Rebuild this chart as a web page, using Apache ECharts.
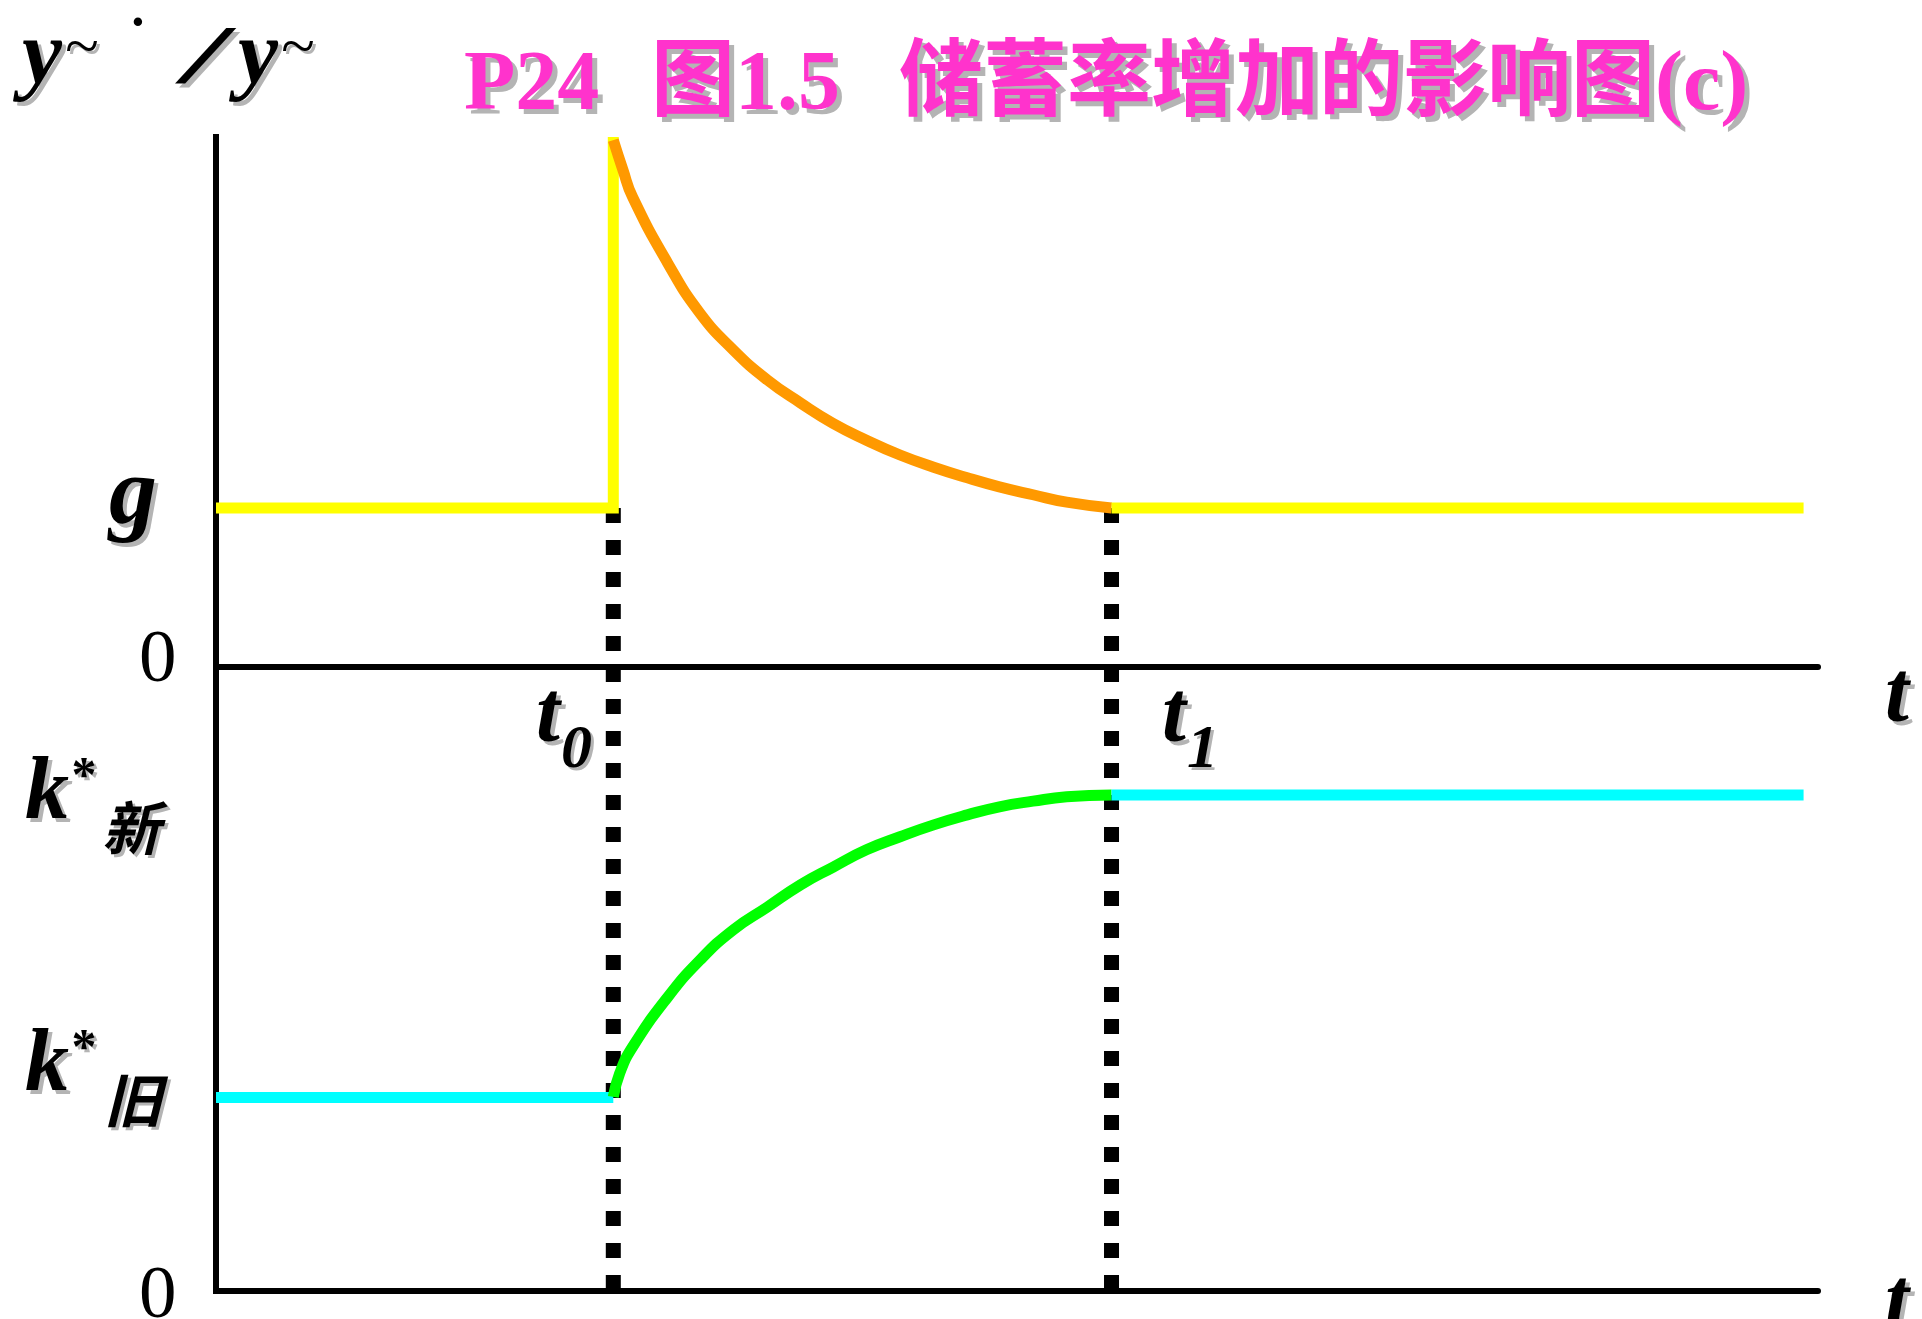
<!DOCTYPE html>
<html>
<head>
<meta charset="utf-8">
<script src="https://cdn.jsdelivr.net/npm/echarts@6/dist/echarts.min.js"></script>
<style>
html,body{margin:0;padding:0;background:#fff}
#main{width:1922px;height:1319px}
</style>
</head>
<body>
<div id="main"></div>
<script>
// time axis (0..100), t0 = saving rate rises, t1 = new steady state
const t0 = 24.8, t1 = 55.9, tEnd = 99.1;
// upper panel: growth rate of y~
const gRate = 0.3, peakRate = 1.0;
const orangeT = [24.8, 25.4, 26.0, 28.2, 30.2, 32.3, 34.4, 36.5, 38.5, 40.6, 42.7, 44.8, 46.9, 48.9, 51.0, 53.1, 55.9];
const orangeY = [0.994, 0.938, 0.887, 0.762, 0.668, 0.598, 0.542, 0.498, 0.460, 0.428, 0.400, 0.377, 0.357, 0.340, 0.325, 0.311, 0.300];
// lower panel: k
const kOld = 0.31, kNew = 0.795;
const greenT = [24.8, 25.2, 26.0, 28.2, 30.2, 32.3, 34.4, 36.5, 38.5, 40.6, 42.7, 44.8, 46.9, 48.9, 51.0, 53.1, 55.9];
const greenK = [0.311, 0.349, 0.391, 0.471, 0.530, 0.579, 0.615, 0.651, 0.679, 0.707, 0.728, 0.747, 0.763, 0.776, 0.785, 0.792, 0.795];

const SERIF = '"Liberation Serif", "Noto Sans CJK SC"';
const CJK = '"Noto Sans CJK SC"';
const GREY = '#b4b4b4';

let texts = [];
// baseline -> middle for the serif font
function addText(x, baseline, text, font, size, fill, shadow, extra){
    let y = baseline - 0.3375 * size;
    let f = font.replace('#', size + 'px');
    if ( shadow ){
        texts.push(Object.assign({ type:'text', x:x + shadow, y:y + shadow, z:10,
            style:{ text:text, font:f, fill:GREY, textVerticalAlign:'middle' } }, extra || {}));
    }
    texts.push(Object.assign({ type:'text', x:x, y:y, z:11,
        style:{ text:text, font:f, fill:fill, textVerticalAlign:'middle' } }, extra || {}));
}
function addCenter(cx, cy, text, font, fill, shadow){
    if ( shadow ){
        texts.push({ type:'text', x:cx + shadow, y:cy + shadow, z:10,
            style:{ text:text, font:font, fill:GREY, textAlign:'center', textVerticalAlign:'middle' } });
    }
    texts.push({ type:'text', x:cx, y:cy, z:11,
        style:{ text:text, font:font, fill:fill, textAlign:'center', textVerticalAlign:'middle' } });
}

// title
const PINK = '#ff33cc';
addText(464, 116, 'P24', 'bold # ' + SERIF, 84, PINK, 5);
addText(651, 116, '图1.5', 'bold # ' + SERIF, 84, PINK, 5);
addText(899, 116, '储蓄率增加的影响图(c)', 'bold # ' + SERIF, 84, PINK, 5);

// y~ . / y~
addText(22, 90, 'y', 'italic bold # ' + SERIF, 90, '#000', 4);
addCenter(82, 50, '~', '62px ' + SERIF, '#000', 3);
addCenter(138, 26, '·', 'bold 52px ' + SERIF, '#000', 0);
addText(184, 88, '/', 'italic bold # ' + SERIF, 82, '#000', 4, { scaleX:1.8, originX:0 });
addText(238, 90, 'y', 'italic bold # ' + SERIF, 90, '#000', 4);
addCenter(298, 50, '~', '62px ' + SERIF, '#000', 3);

// left labels
addText(109, 531, 'g', 'italic bold # ' + SERIF, 96, '#000', 4);
addText(139, 687, '0', '# ' + SERIF, 75, '#000', 0);
addText(139, 1323, '0', '# ' + SERIF, 75, '#000', 0);
addText(25, 825, 'k', 'italic bold # ' + SERIF, 88, '#000', 4);
addCenter(84, 778, '*', 'bold 50px ' + SERIF, '#000', 3);
addCenter(131, 828, '新', 'italic bold 58px ' + CJK, '#000', 3);
addText(25, 1097, 'k', 'italic bold # ' + SERIF, 88, '#000', 4);
addCenter(84, 1050, '*', 'bold 50px ' + SERIF, '#000', 3);
addCenter(133, 1100, '旧', 'italic bold 58px ' + CJK, '#000', 3);

// time labels
addText(536, 748, 't', 'italic bold # ' + SERIF, 86, '#000', 4);
addText(561, 772, '0', 'italic bold # ' + SERIF, 62, '#000', 3);
addText(1162, 748, 't', 'italic bold # ' + SERIF, 86, '#000', 4);
addText(1187, 772, '1', 'italic bold # ' + SERIF, 62, '#000', 3);
addText(1885, 728, 't', 'italic bold # ' + SERIF, 86, '#000', 4);
addText(1885, 1335, 't', 'italic bold # ' + SERIF, 86, '#000', 4);

function axisPair(grid){
    return {
        x:{ gridIndex:grid, type:'value', min:0, max:100,
            axisLine:{ show:true, onZero:false, lineStyle:{ color:'#000', width:6 } },
            axisTick:{ show:false }, axisLabel:{ show:false }, splitLine:{ show:false } },
        y:{ gridIndex:grid, type:'value', min:0, max:1,
            axisLine:{ show:true, lineStyle:{ color:'#000', width:6, cap:'square' } },
            axisTick:{ show:false }, axisLabel:{ show:false }, splitLine:{ show:false } }
    };
}
let a0 = axisPair(0), a1 = axisPair(1);

function line(grid, data, color, width, extra){
    return Object.assign({
        type:'line', xAxisIndex:grid, yAxisIndex:grid, data:data,
        symbol:'none', clip:false, silent:true, z:3,
        lineStyle:{ color:color, width:width, join:'miter' }
    }, extra || {});
}
function dashed(grid, from, to, x){
    return line(grid, [[x, from], [x, to]], '#000', 15, {
        z:1, lineStyle:{ color:'#000', width:15, type:[15, 17], cap:'butt' }
    });
}
const curve = { smooth:0.5 };

let option = {
    animation:false,
    backgroundColor:'#fff',
    grid:[
        { left:216, right:104, top:137, height:530 },
        { left:216, right:104, top:667, height:624 }
    ],
    xAxis:[a0.x, a1.x],
    yAxis:[a0.y, a1.y],
    graphic:{ elements:texts },
    series:[
        dashed(0, gRate, 0, t0),
        dashed(0, gRate, 0, t1),
        dashed(1, 1, 0, t0),
        dashed(1, 1, 0, t1),
        line(0, [[0, gRate], [t0, gRate], [t0, peakRate]], '#ffff00', 11),
        line(0, orangeT.map((t, i)=>[t, orangeY[i]]), '#ff9900', 11, curve),
        line(0, [[t1, gRate], [tEnd, gRate]], '#ffff00', 11),
        line(1, [[0, kOld], [t0, kOld]], '#00ffff', 11),
        line(1, greenT.map((t, i)=>[t, greenK[i]]), '#00ff00', 11, curve),
        line(1, [[t1, kNew], [tEnd, kNew]], '#00ffff', 11)
    ]
};

let myChart = echarts.init(document.getElementById('main'));
myChart.setOption(option);
</script>
</body>
</html>
